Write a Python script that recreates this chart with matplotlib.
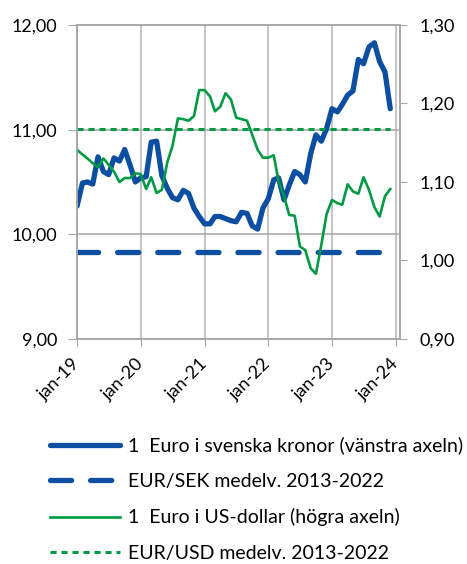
import pandas as pd
import matplotlib.pyplot as plt
import matplotlib.dates as mdates
from matplotlib.ticker import FuncFormatter

plt.rcParams['font.family'] = ['Lato', 'DejaVu Sans']

# Data, monthly jan-19 .. dec-23
months = pd.date_range('2019-01-01', '2023-12-01', freq='MS')

eur_sek = [
    10.27, 10.49, 10.50, 10.48, 10.74, 10.60, 10.57, 10.73, 10.70, 10.81, 10.66, 10.50,
    10.54, 10.55, 10.88, 10.89, 10.56, 10.44, 10.35, 10.33, 10.42, 10.39, 10.25, 10.17,
    10.10, 10.10, 10.17, 10.17, 10.15, 10.13, 10.12, 10.21, 10.20, 10.08, 10.05, 10.25,
    10.34, 10.52, 10.54, 10.33, 10.47, 10.60, 10.57, 10.50, 10.77, 10.95, 10.89, 11.01,
    11.20, 11.17, 11.24, 11.33, 11.37, 11.67, 11.63, 11.79, 11.83, 11.65, 11.55, 11.20,
]
eur_usd = [
    1.141, 1.135, 1.130, 1.124, 1.119, 1.130, 1.122, 1.113, 1.100, 1.105, 1.105, 1.111,
    1.110, 1.091, 1.106, 1.086, 1.090, 1.125, 1.146, 1.181, 1.180, 1.178, 1.184, 1.217,
    1.217, 1.209, 1.190, 1.196, 1.213, 1.205, 1.182, 1.180, 1.178, 1.160, 1.141, 1.131,
    1.131, 1.134, 1.101, 1.082, 1.058, 1.057, 1.018, 1.013, 0.990, 0.983, 1.020, 1.059,
    1.077, 1.073, 1.071, 1.097, 1.088, 1.085, 1.106, 1.090, 1.068, 1.056, 1.082, 1.091,
]
eur_sek_mean = 9.83
eur_usd_mean = 1.168

labels = ['1  Euro i svenska kronor (vänstra axeln)', 'EUR/SEK medelv. 2013-2022',
          '1  Euro i US-dollar (högra axeln)', 'EUR/USD medelv. 2013-2022']

blue = '#0B4EA2'
green = '#009A44'
grey = '#A6A6A6'

fig = plt.figure(figsize=(4.67, 5.64), dpi=100)
ax = fig.add_axes([0.165, 0.399, 0.6916, 0.5567])
ax2 = ax.twinx()

l1, = ax.plot(months, eur_sek, color=blue, lw=3.8, solid_capstyle='round', solid_joinstyle='round')
l2, = ax.plot(months, [eur_sek_mean] * len(months), color=blue, lw=3.8,
              dashes=(4, 3.6), dash_capstyle='round')
l3, = ax2.plot(months, eur_usd, color=green, lw=1.9)
l4, = ax2.plot(months, [eur_usd_mean] * len(months), color=green, lw=2.2, dashes=(2, 1.6))

ax.set_ylim(9, 12)
ax2.set_ylim(0.9, 1.3)
ax.set_yticks([9, 10, 11, 12])
ax2.set_yticks([0.9, 1.0, 1.1, 1.2, 1.3])
ax.yaxis.set_major_formatter(FuncFormatter(lambda v, p: f'{v:.2f}'.replace('.', ',')))
ax2.yaxis.set_major_formatter(FuncFormatter(lambda v, p: f'{v:.2f}'.replace('.', ',')))

ax.set_xlim(pd.Timestamp('2019-01-01'), pd.Timestamp('2024-01-26'))
ax.xaxis.set_major_locator(mdates.YearLocator())
ax.xaxis.set_major_formatter(FuncFormatter(lambda v, p: 'jan-' + mdates.num2date(v).strftime('%y')))

ax.grid(axis='y', color=grey, lw=1.1)
ax.grid(axis='x', color='#C4C4C4', lw=1.4)
ax.set_axisbelow(True)

for a in (ax, ax2):
    for s in a.spines.values():
        s.set_color(grey)
        s.set_linewidth(1.1)

ax.tick_params(axis='y', length=6.5, color=grey, pad=8, labelsize=13)
ax2.tick_params(axis='y', length=5, color=grey, pad=9, labelsize=13)
ax.tick_params(axis='x', length=5, color=grey, pad=11, labelsize=13)
for t in ax.get_xticklabels():
    t.set_rotation(45)
    t.set_ha('right')
    t.set_va('center')
    t.set_rotation_mode('anchor')

fig.legend([l1, l2, l3, l4], labels, loc='upper left', bbox_to_anchor=(0.107, 0.226),
           frameon=False, borderpad=0, borderaxespad=0, fontsize=14,
           handlelength=3.6, handletextpad=0.4, labelspacing=0.95)

plt.savefig('out.png', dpi=100)
